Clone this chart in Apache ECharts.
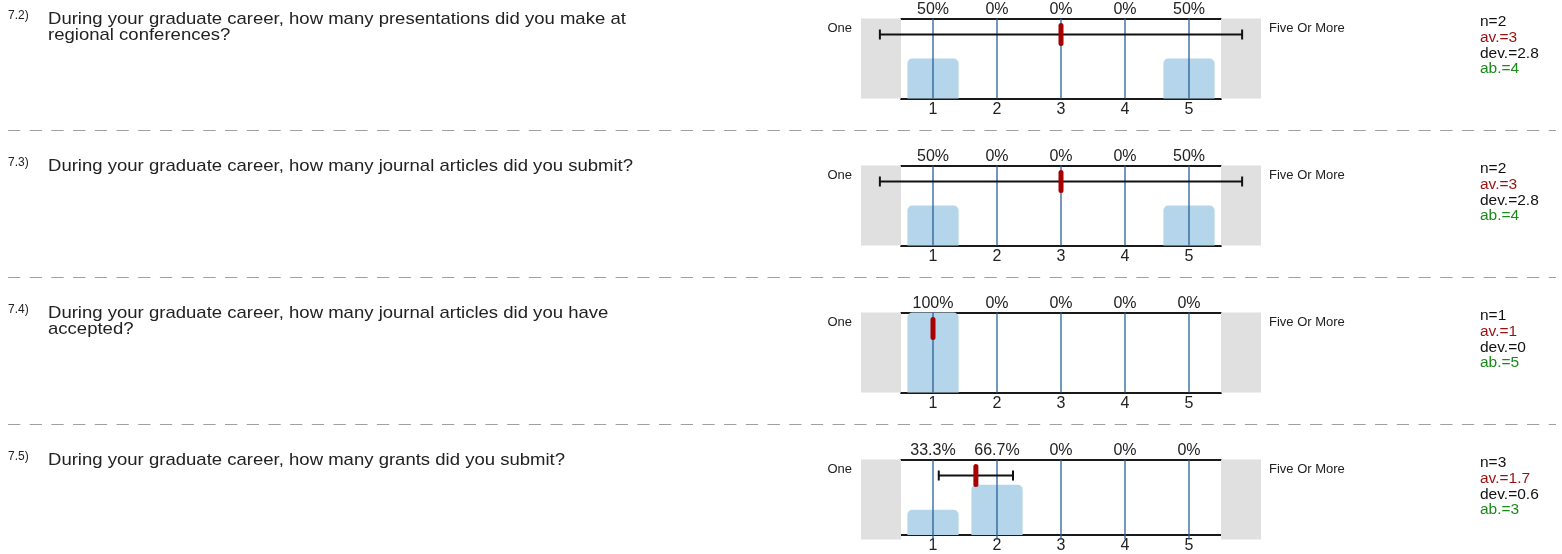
<!DOCTYPE html>
<html>
<head>
<meta charset="utf-8">
<script src="https://cdn.jsdelivr.net/npm/echarts@6/dist/echarts.min.js"></script>
<style>
  html, body { margin: 0; padding: 0; background: #fff; }
  #chart { width: 1562px; height: 554px; }
</style>
</head>
<body>
<div id="chart"></div>
<script>
// survey items
var questionNums = ['7.2)', '7.3)', '7.4)', '7.5)'];
var questions = [
  'During your graduate career, how many presentations did you make at\nregional conferences?',
  'During your graduate career, how many journal articles did you submit?',
  'During your graduate career, how many journal articles did you have\naccepted?',
  'During your graduate career, how many grants did you submit?'
];
var categories = ['1', '2', '3', '4', '5'];
var leftPole = 'One';
var rightPole = 'Five Or More';

// answer distribution in percent
var percents = [
  [50, 0, 0, 0, 50],
  [50, 0, 0, 0, 50],
  [100, 0, 0, 0, 0],
  [33.3, 66.7, 0, 0, 0]
];
// mean and std deviation (drawn), plus printed stats
var means = [3, 3, 1, 1.67];
var devs = [2.83, 2.83, 0, 0.58];
var nVals = ['2', '2', '1', '3'];
var avLabels = ['3', '3', '1', '1.7'];
var devLabels = ['2.8', '2.8', '0', '0.6'];
var abVals = ['4', '4', '5', '3'];

var FONT = '"Liberation Sans", Arial, sans-serif';
var ROW = 147;

var chart = echarts.init(document.getElementById('chart'));

var grid = [], xAxis = [], yAxis = [], series = [], graphic = [];

questions.forEach(function (q, r) {
  var top = 18.5 + ROW * r;

  // inner grid: bars + category axes
  grid.push({ left: 901, top: top, width: 320, height: 80 });
  // outer grid: side boxes + error bar
  grid.push({ left: 861, top: top, width: 400, height: 80 });

  xAxis.push({
    type: 'category', gridIndex: 2 * r, data: categories, position: 'bottom',
    axisLine: { lineStyle: { color: '#1a1a1a', width: 2 } },
    axisTick: { show: false },
    axisLabel: { color: '#222', fontSize: 16, fontFamily: FONT, margin: 3 },
    splitLine: { show: false }
  });
  xAxis.push({
    type: 'category', gridIndex: 2 * r, data: categories, position: 'top',
    axisLine: { lineStyle: { color: '#1a1a1a', width: 2 } },
    axisTick: { show: false },
    axisLabel: {
      color: '#222', fontSize: 16, fontFamily: FONT, margin: 0.5,
      formatter: function (v, i) { return percents[r][i] + '%'; }
    },
    splitLine: { show: false }
  });
  xAxis.push({ type: 'value', gridIndex: 2 * r + 1, min: -0.125, max: 6.125, show: false });

  yAxis.push({ type: 'value', gridIndex: 2 * r, min: 0, max: 100, show: false });
  yAxis.push({ type: 'value', gridIndex: 2 * r + 1, min: 0, max: 100, show: false });

  series.push({
    type: 'bar',
    xAxisIndex: 3 * r, yAxisIndex: 2 * r,
    data: percents[r],
    barWidth: '80%',
    silent: true,
    z: 2,
    itemStyle: { color: '#b4d5ea', borderRadius: [5, 5, 0, 0] }
  });

  // blue guide lines at each category + grey side boxes
  series.push({
    type: 'custom',
    xAxisIndex: 3 * r + 2, yAxisIndex: 2 * r + 1,
    silent: true,
    z: 3,
    data: categories.map(function (c) { return [Number(c)]; }),
    encode: { x: 0 },
    renderItem: function (params, api) {
      var p1 = api.coord([api.value(0), 100]);
      var p2 = api.coord([api.value(0), 0]);
      return {
        type: 'line',
        shape: { x1: p1[0], y1: p1[1], x2: p2[0], y2: p2[1] },
        style: { stroke: '#2a6098', lineWidth: 1.3 }
      };
    },
    markArea: {
      silent: true,
      itemStyle: { color: '#e0e0e0' },
      data: [
        [{ xAxis: -0.125, yAxis: 0 }, { xAxis: 0.5, yAxis: 100 }],
        [{ xAxis: 5.5, yAxis: 0 }, { xAxis: 6.125, yAxis: 100 }]
      ]
    }
  });

  // mean +/- deviation
  series.push({
    type: 'custom',
    xAxisIndex: 3 * r + 2, yAxisIndex: 2 * r + 1,
    silent: true,
    z: 5,
    data: [[means[r], devs[r]]],
    encode: { x: 0 },
    renderItem: function (params, api) {
      var m = api.value(0), d = api.value(1);
      var c = api.coord([m, 80]);
      var lo = api.coord([m - d, 80]);
      var hi = api.coord([m + d, 80]);
      var kids = [];
      if (d > 0) {
        kids.push({ type: 'line', shape: { x1: lo[0], y1: c[1], x2: hi[0], y2: c[1] },
          style: { stroke: '#111', lineWidth: 2 } });
        kids.push({ type: 'line', shape: { x1: lo[0], y1: c[1] - 5, x2: lo[0], y2: c[1] + 5 },
          style: { stroke: '#111', lineWidth: 2 } });
        kids.push({ type: 'line', shape: { x1: hi[0], y1: c[1] - 5, x2: hi[0], y2: c[1] + 5 },
          style: { stroke: '#111', lineWidth: 2 } });
      }
      kids.push({ type: 'rect', shape: { x: c[0] - 2.5, y: c[1] - 11.5, width: 5, height: 23, r: 2.5 },
        style: { fill: '#a80000' } });
      return { type: 'group', children: kids };
    }
  });

  // texts
  graphic.push({ type: 'text', silent: true, style: {
    text: questionNums[r], x: 8, y: 15.5 + ROW * r, font: '12px ' + FONT,
    fill: '#222', textVerticalAlign: 'middle' } });
  graphic.push({ type: 'text', silent: true, x: 48, y: 11 + ROW * r, scaleX: 1.09,
    style: {
      text: q, x: 0, y: 0, font: '17px ' + FONT, lineHeight: 16,
      fill: '#222', textVerticalAlign: 'top' } });
  graphic.push({ type: 'text', silent: true, style: {
    text: leftPole, x: 852, y: 28 + ROW * r, font: '13px ' + FONT,
    fill: '#222', textAlign: 'right', textVerticalAlign: 'middle' } });
  graphic.push({ type: 'text', silent: true, style: {
    text: rightPole, x: 1269, y: 28 + ROW * r, font: '13px ' + FONT,
    fill: '#222', textVerticalAlign: 'middle' } });

  var stats = [
    ['n=' + nVals[r], '#111'],
    ['av.=' + avLabels[r], '#9a1010'],
    ['dev.=' + devLabels[r], '#111'],
    ['ab.=' + abVals[r], '#1b8a1b']
  ];
  stats.forEach(function (s, i) {
    graphic.push({ type: 'text', silent: true, style: {
      text: s[0], x: 1480, y: 21.7 + 15.8 * i + ROW * r, font: '15.5px ' + FONT,
      fill: s[1], textVerticalAlign: 'middle' } });
  });

  if (r > 0) {
    graphic.push({ type: 'line', silent: true,
      shape: { x1: 8, y1: ROW * r - 16.5, x2: 1556, y2: ROW * r - 16.5 },
      style: { stroke: '#a0a0a0', lineWidth: 1, lineDash: [12.3, 9.4] } });
  }
});

chart.setOption({
  animation: false,
  grid: grid,
  xAxis: xAxis,
  yAxis: yAxis,
  series: series,
  graphic: graphic
});
</script>
</body>
</html>
